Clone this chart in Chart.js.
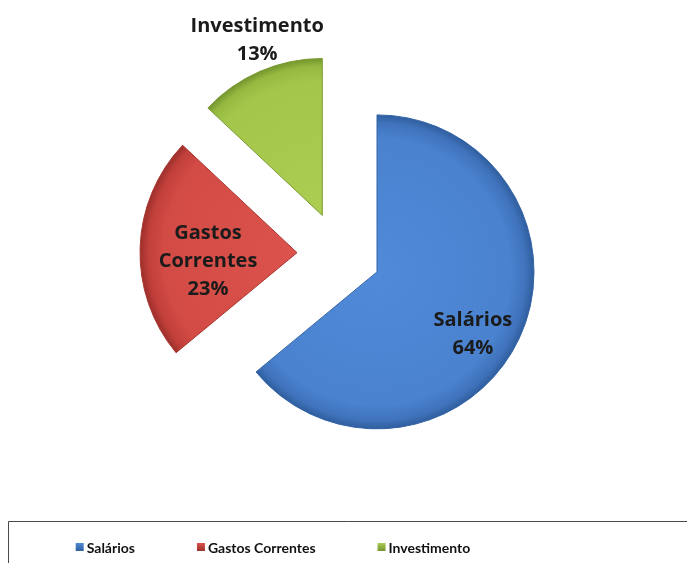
<!DOCTYPE html>
<html>
<head>
<meta charset="utf-8">
<script src="https://cdn.jsdelivr.net/npm/chart.js@4"></script>
<style>
  body { margin: 0; background: #fff; }
  #wrap { width: 687px; height: 563px; position: relative; }
</style>
</head>
<body>
<div id="wrap"><canvas id="myChart"></canvas></div>
<script>
const categories = ['Salários', 'Gastos Correntes', 'Investimento'];
const values = [64, 23, 13];
const sliceTitles = [['Salários'], ['Gastos', 'Correntes'], ['Investimento']];

// gradient stops per slice (center -> rim)
const blueStops = ['#508ad8', '#4a82cf', '#3f72bb', '#2f5e9d'];
const redStops = ['#db534c', '#d34b45', '#c13f3a', '#9c2f2b'];
const greenStops = ['#abcd52', '#a4c74b', '#95b940', '#74952e'];
const sliceStops = [blueStops, redStops, greenStops];
const edgeColors = ['#3464a6', '#a8352f', '#7d9c33'];

const EXPLODE = 42;
const RADIUS = 157;
const labelFont = 'bold 20px "Open Sans"';
const legendFont = 'bold 14px Lato';

function sliceFill(context) {
    const chart = context.chart;
    const area = chart.chartArea;
    const stops = sliceStops[context.dataIndex];
    if (!area) return stops[1];
    const cx = (area.left + area.right) / 2;
    const cy = (area.top + area.bottom) / 2;
    const g = chart.ctx.createRadialGradient(cx, cy, 0, cx, cy, RADIUS);
    g.addColorStop(0, stops[0]);
    g.addColorStop(0.85, stops[1]);
    g.addColorStop(0.95, stops[2]);
    g.addColorStop(1, stops[3]);
    return g;
}

// draw each slice pulled out from the centre
const explodePlugin = {
    id: 'explode',
    beforeDatasetDraw(chart, args) {
        const ctx = chart.ctx;
        args.meta.data.forEach(arc => {
            const mid = (arc.startAngle + arc.endAngle) / 2;
            ctx.save();
            ctx.translate(Math.cos(mid) * EXPLODE, Math.sin(mid) * EXPLODE);
            arc.draw(ctx, chart.chartArea);
            ctx.restore();
        });
        return false;
    }
};

// label placement: fraction of radius, angle tweak (deg)
const labelPlace = [[0.73, 8], [0.57, -7.6], [1.19, 3]];

const sliceLabels = {
    id: 'sliceLabels',
    afterDatasetsDraw(chart) {
        const ctx = chart.ctx;
        const meta = chart.getDatasetMeta(0);
        const total = values.reduce((a, b) => a + b, 0);
        ctx.save();
        ctx.font = labelFont;
        ctx.fillStyle = '#1b1b1b';
        ctx.textAlign = 'center';
        ctx.textBaseline = 'middle';
        meta.data.forEach((arc, i) => {
            const mid = (arc.startAngle + arc.endAngle) / 2;
            const vx = arc.x + Math.cos(mid) * EXPLODE;
            const vy = arc.y + Math.sin(mid) * EXPLODE;
            const a = mid + labelPlace[i][1] * Math.PI / 180;
            const r = arc.outerRadius * labelPlace[i][0];
            const x = vx + Math.cos(a) * r;
            const y = vy + Math.sin(a) * r;
            const lines = sliceTitles[i].concat([Math.round(values[i] / total * 100) + '%']);
            const lh = 28;
            const top = y - (lines.length - 1) * lh / 2;
            lines.forEach((t, j) => ctx.fillText(t, x, top + j * lh));
        });
        ctx.restore();
    }
};

// boxed legend along the bottom
const boxLegend = {
    id: 'boxLegend',
    afterDraw(chart) {
        const ctx = chart.ctx;
        ctx.save();
        ctx.strokeStyle = '#4a4a4a';
        ctx.lineWidth = 1;
        ctx.beginPath();
        ctx.moveTo(8.5, 570);
        ctx.lineTo(8.5, 521.5);
        ctx.lineTo(700, 521.5);
        ctx.stroke();

        ctx.font = legendFont;
        ctx.textBaseline = 'middle';
        ctx.textAlign = 'left';
        const box = 8, gapText = 3, gapItem = 62;
        const widths = categories.map(c => box + gapText + ctx.measureText(c).width);
        const totalW = widths.reduce((a, b) => a + b, 0) + gapItem * (categories.length - 1);
        let x = 273 - totalW / 2;
        const y = 547;
        categories.forEach((c, i) => {
            const g = ctx.createLinearGradient(0, y - 4, 0, y + 4);
            g.addColorStop(0, sliceStops[i][0]);
            g.addColorStop(1, sliceStops[i][3]);
            ctx.fillStyle = g;
            ctx.fillRect(x, y - 4, box, box);
            ctx.fillStyle = '#111';
            ctx.fillText(c, x + box + gapText, y + 1);
            x += widths[i] + gapItem;
        });
        ctx.restore();
    }
};

const ctx = document.getElementById('myChart');

new Chart(ctx, {
    type: 'pie',
    data: {
        labels: categories,
        datasets: [{
            data: values,
            backgroundColor: sliceFill,
            borderColor: edgeColors,
            borderWidth: 1,
            radius: RADIUS,
            hoverOffset: 0
        }]
    },
    options: {
        responsive: true,
        maintainAspectRatio: false,
        animation: false,
        layout: {
            padding: { left: 0, right: 9, top: 0, bottom: 55 }
        },
        plugins: {
            legend: { display: false },
            tooltip: { enabled: false }
        }
    },
    plugins: [explodePlugin, sliceLabels, boxLegend]
});
</script>
</body>
</html>
